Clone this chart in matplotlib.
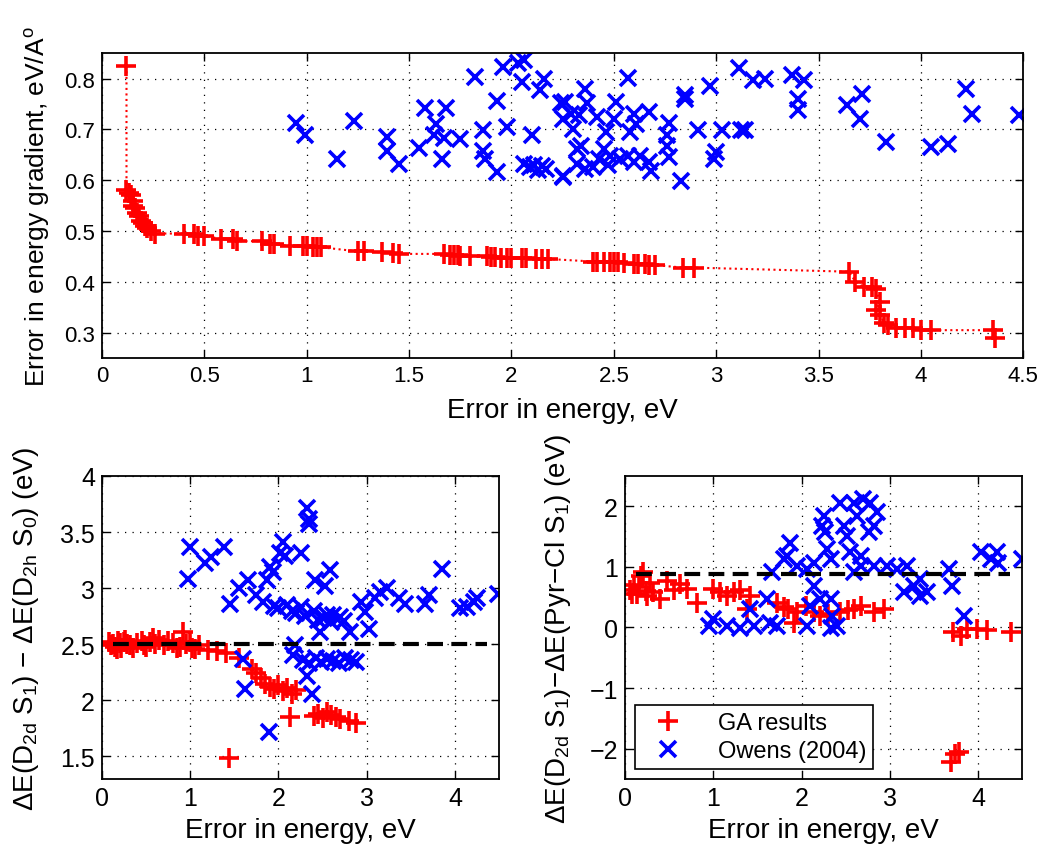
import numpy as np
import matplotlib.pyplot as plt

plt.rcParams['font.family'] = ['Liberation Sans', 'DejaVu Sans']
plt.rcParams['mathtext.fontset'] = 'custom'
plt.rcParams['mathtext.rm'] = 'Liberation Sans'
plt.rcParams['mathtext.it'] = 'Liberation Sans'

# ---- top panel: energy error vs gradient error ----
ga_err = [0.12, 0.12, 0.13, 0.14, 0.15, 0.15, 0.16, 0.17, 0.18, 0.19, 0.20, 0.21, 0.22, 0.24, 0.26,
          0.40, 0.45, 0.47, 0.50, 0.58, 0.64, 0.66, 0.78, 0.82, 0.84, 0.92, 0.98, 1.00, 1.03, 1.05, 1.07,
          1.25, 1.28, 1.37, 1.42, 1.45, 1.67, 1.70, 1.72, 1.74, 1.75, 1.80, 1.88, 1.90, 1.92, 1.95,
          1.98, 2.00, 2.05, 2.07, 2.12, 2.15, 2.18, 2.40, 2.42, 2.45, 2.48, 2.50, 2.52, 2.55, 2.60,
          2.62, 2.65, 2.67, 2.70, 2.84, 2.89, 3.65, 3.68, 3.72, 3.76, 3.78, 3.80, 3.78, 3.80, 3.82,
          3.84, 3.88, 3.92, 3.96, 4.00, 4.05, 4.35, 4.36]
ga_grad = [0.825, 0.58, 0.575, 0.57, 0.56, 0.55, 0.545, 0.535, 0.53, 0.52, 0.515, 0.51, 0.505, 0.50, 0.495,
           0.495, 0.495, 0.49, 0.49, 0.485, 0.485, 0.48, 0.48, 0.475, 0.475, 0.47, 0.47, 0.47, 0.468, 0.468, 0.468,
           0.46, 0.46, 0.458, 0.456, 0.455, 0.455, 0.453, 0.452, 0.452, 0.45, 0.45, 0.45, 0.448, 0.448, 0.447,
           0.447, 0.446, 0.446, 0.446, 0.445, 0.445, 0.445, 0.44, 0.44, 0.44, 0.44, 0.44, 0.44, 0.438, 0.436,
           0.435, 0.435, 0.433, 0.433, 0.428, 0.428, 0.42, 0.40, 0.39, 0.39, 0.385, 0.36, 0.345, 0.335, 0.32,
           0.315, 0.31, 0.31, 0.31, 0.305, 0.305, 0.305, 0.29]

ow_err = [0.95, 0.99, 1.15, 1.23, 1.39, 1.39, 1.45, 1.55, 1.58, 1.68, 1.63, 1.62, 1.67, 1.75, 1.66,
          1.82, 1.93, 1.86, 1.86, 1.87, 1.93, 1.98, 1.96, 2.03, 2.06, 2.05, 2.16, 2.14, 2.10, 2.06,
          2.09, 2.11, 2.13, 2.15, 2.17, 2.25, 2.24, 2.25, 2.57, 2.36, 2.26, 2.37, 2.51, 2.29, 2.33,
          2.42, 2.50, 2.60, 2.67, 2.30, 2.46, 2.58, 2.61, 2.77, 2.76, 2.76, 2.77, 2.85, 2.85, 2.83,
          2.91, 2.97, 3.03, 3.00, 2.99, 3.12, 3.14, 3.11, 3.18, 3.24, 3.37, 3.43, 3.40, 3.40,
          2.25, 2.32, 2.34, 2.36, 2.40, 2.45, 2.47, 2.48, 2.53, 2.57, 2.60, 2.63, 2.67, 2.68, 2.43, 2.32,
          3.64, 3.71, 3.70, 3.83, 4.05, 4.13, 4.22, 4.25, 4.48]
ow_grad = [0.713, 0.688, 0.642, 0.716, 0.685, 0.658, 0.632, 0.663, 0.742, 0.741, 0.711, 0.689, 0.683, 0.681, 0.641,
           0.803, 0.755, 0.698, 0.658, 0.642, 0.616, 0.705, 0.823, 0.830, 0.836, 0.793, 0.800, 0.777, 0.688, 0.632,
           0.625, 0.630, 0.620, 0.628, 0.622, 0.606, 0.751, 0.72, 0.801, 0.780, 0.754, 0.751, 0.754, 0.731, 0.728,
           0.724, 0.721, 0.731, 0.734, 0.701, 0.695, 0.695, 0.711, 0.713, 0.688, 0.668, 0.645, 0.767, 0.760, 0.599,
           0.698, 0.785, 0.698, 0.655, 0.642, 0.699, 0.699, 0.821, 0.797, 0.800, 0.807, 0.797, 0.760, 0.738,
           0.609, 0.632, 0.668, 0.622, 0.625, 0.662, 0.629, 0.648, 0.642, 0.648, 0.635, 0.648, 0.635, 0.619, 0.642, 0.662,
           0.747, 0.770, 0.721, 0.675, 0.665, 0.672, 0.779, 0.731, 0.728]

# ---- bottom left: D2d S1 - D2h S0 ----
ga_err_l = [0.08, 0.12, 0.15, 0.18, 0.20, 0.22, 0.25, 0.28, 0.32, 0.40, 0.45, 0.50, 0.55, 0.60, 0.65,
            0.70, 0.80, 0.85, 0.92, 0.95, 1.00, 1.05, 1.10, 1.20, 1.30, 1.40, 1.55, 1.70, 1.75, 1.80,
            1.85, 1.90, 1.95, 2.00, 2.05, 2.10, 2.15, 2.20, 2.13, 1.44, 2.40, 2.45, 2.50, 2.55, 2.60,
            2.65, 2.70, 2.80, 2.88, 0.10, 0.17, 0.26, 0.35, 0.48, 0.58, 0.75, 0.88, 1.02]
ga_dl = [2.52, 2.50, 2.48, 2.53, 2.51, 2.47, 2.52, 2.50, 2.49, 2.51, 2.53, 2.48, 2.52, 2.50, 2.54,
         2.49, 2.51, 2.47, 2.61, 2.50, 2.52, 2.46, 2.49, 2.45, 2.44, 2.42, 2.38, 2.28, 2.24, 2.20,
         2.15, 2.12, 2.10, 2.14, 2.08, 2.11, 2.06, 2.09, 1.85, 1.49, 1.86, 1.88, 1.84, 1.90, 1.87,
         1.85, 1.83, 1.82, 1.80, 2.49, 2.46, 2.54, 2.47, 2.49, 2.56, 2.53, 2.48, 2.47]

ow_err_l = [0.98, 1.00, 1.17, 1.24, 1.38, 1.45, 1.55, 1.60, 1.62, 1.89, 1.66, 1.75, 1.83, 1.90, 1.94,
            1.87, 2.05, 2.07, 2.02, 2.26, 2.32, 2.34, 2.34, 2.58, 2.53, 2.41, 3.85, 4.49, 4.06, 4.13,
            4.21, 4.25, 3.66, 3.70, 3.36, 3.43, 3.15, 3.23, 3.09, 2.94, 2.98, 3.02, 2.81, 2.74,
            2.19, 2.17, 2.32, 2.38, 2.47, 2.51, 2.62,
            1.95, 2.00, 2.10, 2.15, 2.20, 2.25, 2.30, 2.40, 2.45, 2.55, 2.60, 2.70,
            2.28, 2.35, 2.42, 2.48, 2.55, 2.62, 2.68, 2.75, 2.82, 2.88]
ow_dl = [3.08, 3.37, 3.22, 3.28, 3.37, 2.86, 3.00, 2.37, 2.10, 1.72, 3.07, 2.94, 2.88, 3.19, 3.14,
         3.07, 3.41, 3.29, 3.31, 3.31, 3.71, 3.62, 3.57, 3.16, 3.02, 3.07, 3.17, 2.95, 2.82, 2.83,
         2.88, 2.91, 2.86, 2.94, 2.91, 2.86, 2.97, 3.00, 2.91, 2.88, 2.79, 2.64, 2.61, 2.71,
         2.49, 2.40, 2.22, 2.06, 2.61, 2.73, 2.76,
         2.84, 2.82, 2.85, 2.80, 2.78, 2.83, 2.75, 2.80, 2.72, 2.76, 2.70, 2.74,
         2.36, 2.33, 2.38, 2.34, 2.37, 2.35, 2.33, 2.38, 2.36, 2.34]

# ---- bottom right: D2d S1 - Pyr-Cl S1 ----
ga_err_r = [0.06, 0.10, 0.14, 0.18, 0.20, 0.24, 0.28, 0.32, 0.40, 0.47, 0.62, 0.81, 1.00, 1.08, 1.23,
            1.30, 1.42, 1.38, 1.72, 1.80, 1.95, 1.91, 2.14, 2.21, 2.44, 2.59, 2.67, 2.82, 2.93,
            3.72, 3.80, 3.87, 3.99, 4.10, 4.37, 3.69, 3.74, 3.78,
            0.08, 0.16, 0.25, 0.55, 0.70, 1.15, 1.85, 2.05, 2.30, 2.52]
ga_dr = [0.62, 0.70, 0.55, 0.85, 0.91, 0.60, 0.74, 0.58, 0.47, 0.77, 0.72, 0.41, 0.63, 0.58, 0.58,
         0.61, 0.52, 0.30, 0.41, 0.33, 0.25, 0.08, 0.25, 0.19, 0.25, 0.30, 0.36, 0.25, 0.30,
         -0.08, -0.14, -0.03, -0.03, -0.05, -0.08, -2.22, -2.09, -2.06,
         0.55, 0.66, 0.52, 0.62, 0.64, 0.52, 0.30, 0.36, 0.22, 0.28]

ow_err_r = [0.95, 1.00, 1.15, 1.30, 1.46, 1.42, 1.64, 1.72, 1.61, 1.66, 1.80, 1.87, 1.83, 1.95, 2.06,
            2.14, 2.10, 2.06, 2.14, 2.21, 2.25, 2.23, 2.27, 2.29, 2.33, 2.33, 2.34, 2.33, 2.40,
            2.44, 2.48, 2.51, 2.55, 2.59, 2.63, 2.70, 2.78, 2.85, 2.82, 2.76, 2.67, 2.59, 2.67,
            2.82, 2.97, 3.08, 3.19, 3.16, 3.27, 3.34, 3.42, 3.34, 3.67, 3.70, 3.84, 4.03, 4.14,
            4.21, 4.23, 4.50]
ow_dr = [0.03, 0.14, 0.03, -0.01, 0.03, 0.30, 0.08, 0.03, 0.47, 0.91, 1.13, 1.40, 1.18, 1.02, 0.96,
         1.07, 0.36, 0.03, 0.69, 0.47, 1.84, 1.68, 1.57, 1.29, 1.13, 0.47, 0.19, -0.01, 0.03,
         2.06, 1.68, 1.51, 1.24, 2.06, 1.84, 2.12, 2.06, 1.90, 1.68, 1.57, 1.18, 0.91, 1.02,
         1.02, 1.02, 0.96, 1.02, 0.58, 0.69, 0.52, 0.58, 0.80, 0.96, 0.69, 0.19, 1.24, 1.13,
         1.24, 1.07, 1.13]

ref_l = 2.5
ref_r = 0.88

fig = plt.figure(figsize=(10.4, 8.45), dpi=100)
ax_top = fig.add_axes([0.098, 0.575, 0.886, 0.361])
ax_l = fig.add_axes([0.098, 0.077, 0.382, 0.3586])
ax_r = fig.add_axes([0.601, 0.077, 0.382, 0.3586])

ga_style = dict(color='red', marker='+', ms=15, mew=2.6, linestyle='none')
ow_style = dict(color='blue', marker='x', ms=11, mew=2.6, linestyle='none')
ref_style = dict(color='black', linestyle='--', linewidth=3, dashes=(3.8, 2))

ax_top.plot(ga_err, ga_grad, color='red', linestyle=':', linewidth=1.5)
ax_top.plot(ga_err, ga_grad, **ga_style)
ax_top.plot(ow_err, ow_grad, **ow_style)
ax_top.set_xlim(0, 4.5)
ax_top.set_ylim(0.25, 0.85)
ax_top.set_xticks(np.arange(0, 4.51, 0.5))
ax_top.set_xticklabels(['0', '0.5', '1', '1.5', '2', '2.5', '3', '3.5', '4', '4.5'])
ax_top.set_yticks([0.3, 0.4, 0.5, 0.6, 0.7, 0.8])
ax_top.set_xlabel('Error in energy, eV', fontsize=20, labelpad=8)
ax_top.set_ylabel('Error in energy gradient, eV/A$^{\\mathrm{o}}$', fontsize=19, labelpad=9)

ax_l.plot(ga_err_l, ga_dl, **ga_style)
ax_l.plot(ow_err_l, ow_dl, **ow_style)
ax_l.plot([min(ga_err), max(ga_err)], [ref_l, ref_l], **ref_style)
ax_l.set_xlim(0, 4.5)
ax_l.set_ylim(1.3, 4)
ax_l.set_xticks([0, 1, 2, 3, 4])
ax_l.set_yticks([1.5, 2, 2.5, 3, 3.5, 4])
ax_l.set_yticklabels(['1.5', '2', '2.5', '3', '3.5', '4'])
ax_l.set_xlabel('Error in energy, eV', fontsize=20, labelpad=5)
ax_l.set_ylabel(r'$\Delta$E(D$_{2d}$ S$_1$) $-$ $\Delta$E(D$_{2h}$ S$_0$) (eV)', fontsize=20, labelpad=14)

ax_r.plot(ga_err_r, ga_dr, label='GA results', **ga_style)
ax_r.plot(ow_err_r, ow_dr, label='Owens (2004)', **ow_style)
ax_r.plot([min(ga_err), max(ga_err)], [ref_r, ref_r], **ref_style)
ax_r.set_xlim(0, 4.5)
ax_r.set_ylim(-2.5, 2.5)
ax_r.set_xticks([0, 1, 2, 3, 4])
ax_r.set_yticks([-2, -1, 0, 1, 2])
ax_r.set_yticklabels(['\u22122', '\u22121', '0', '1', '2'])
ax_r.set_xlabel('Error in energy, eV', fontsize=20, labelpad=5)
ax_r.set_ylabel(r'$\Delta$E(D$_{2d}$ S$_1$)$-$$\Delta$E(Pyr$-$Cl S$_1$) (eV)', fontsize=20, labelpad=12)
leg = ax_r.legend(loc='lower left', bbox_to_anchor=(0.025, 0.033), borderaxespad=0, fontsize=17,
                  frameon=True, fancybox=False, edgecolor='black', framealpha=1, handlelength=2.2,
                  handletextpad=1.0, borderpad=0.3, labelspacing=0.25)
leg.get_frame().set_linewidth(1.2)

for ax, tsize in ((ax_top, 16), (ax_l, 18), (ax_r, 18)):
    ax.grid(True, color='black', linestyle=(0, (1, 5)), linewidth=0.9)
    ax.tick_params(direction='in', top=True, right=True, labelsize=tsize, length=6, width=1, pad=5)
    for s in ax.spines.values():
        s.set_linewidth(1.3)

fig.savefig('out.png', dpi=100)
